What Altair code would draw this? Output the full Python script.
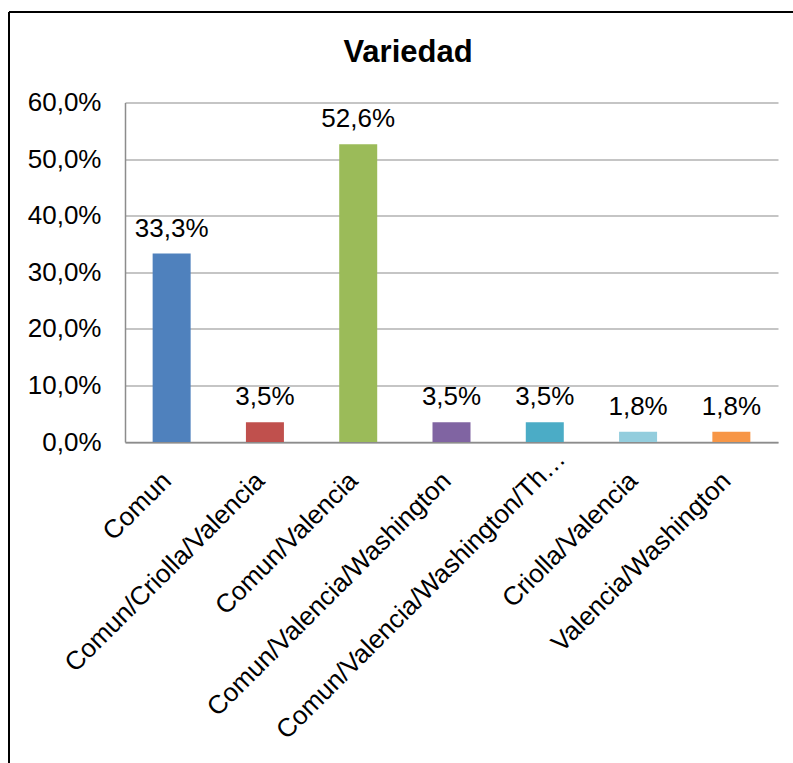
import altair as alt
import pandas as pd

# Share of each variety (percent)
categories = [
    "Comun",
    "Comun/Criolla/Valencia",
    "Comun/Valencia",
    "Comun/Valencia/Washington",
    "Comun/Valencia/Washington/Thompson",
    "Criolla/Valencia",
    "Valencia/Washington",
]
shares = [33.3, 3.5, 52.6, 3.5, 3.5, 1.8, 1.8]
bar_colors = ["#4F81BD", "#C0504D", "#9BBB59", "#8064A2", "#4BACC6", "#93CDDD", "#F79646"]
y_ticks = [0, 10, 20, 30, 40, 50, 60]

FONT = "Liberation Sans"
FS = 26
GRID = "#8c8c8c"

df = pd.DataFrame({"Variedad": categories, "Porcentaje": shares})
pct_label = "replace(format(datum.value, '.1f'), '.', ',') + '%'"

# the truncated long label sits a little up and to the right of its slot
long_label = "datum.value == 'Comun/Valencia/Washington/Thompson'"

base = alt.Chart(df).encode(
    x=alt.X(
        "Variedad:N",
        sort=categories,
        scale=alt.Scale(paddingInner=0, paddingOuter=0),
        axis=alt.Axis(
            title=None,
            labelAngle=-45,
            labelAlign="right",
            labelBaseline="alphabetic",
            labelPadding={"condition": {"test": long_label, "value": 18}, "value": 40},
            labelOffset={"condition": {"test": long_label, "value": 22}, "value": 1},
            labelFont=FONT,
            labelFontSize=FS,
            labelColor="black",
            labelLimit=405,
            ticks=False,
            tickSize=0,
            domainColor=GRID,
            domainWidth=1.5,
        ),
    ),
    y=alt.Y(
        "Porcentaje:Q",
        scale=alt.Scale(domain=[0, 60], nice=False),
        axis=alt.Axis(
            title=None,
            values=y_ticks,
            labelExpr=pct_label,
            labelFont=FONT,
            labelFontSize=FS,
            labelColor="black",
            labelPadding=24,
            labelBaseline="middle",
            ticks=False,
            tickSize=0,
            domainColor=GRID,
            domainWidth=1.5,
            gridColor=GRID,
            gridWidth=1.2,
        ),
    ),
)

bars = base.mark_bar(size=38).encode(
    color=alt.Color(
        "Variedad:N",
        scale=alt.Scale(domain=categories, range=bar_colors),
        legend=None,
    )
)

value_labels = base.transform_calculate(
    etiqueta="replace(format(datum.Porcentaje, '.1f'), '.', ',') + '%'"
).mark_text(
    dy=-17, baseline="alphabetic", font=FONT, fontSize=FS, color="black"
).encode(text="etiqueta:N")

# Outer frame of the chart (top and left edges)
frame_src = alt.Chart(pd.DataFrame({"k": [0]}))
frame_top = frame_src.mark_rule(color="black", strokeWidth=2).encode(
    x=alt.value(-116), x2=alt.value(700), y=alt.value(-90.5)
)
frame_left = frame_src.mark_rule(color="black", strokeWidth=2).encode(
    x=alt.value(-116), y=alt.value(-90.5), y2=alt.value(700)
)

chart = (
    alt.layer(frame_top, frame_left, bars, value_labels)
    .properties(
        width=653,
        height=339.5,
        title=alt.TitleParams(
            text="Variedad",
            font=FONT,
            fontSize=31,
            fontWeight="bold",
            color="black",
            anchor="middle",
            dx=-43.5,
            baseline="alphabetic",
            offset=0,
            dy=82,
        ),
        autosize=alt.AutoSizeParams(type="none"),
        padding={"left": 125, "top": 102.5, "right": 15, "bottom": 321},
        background="white",
    )
    .configure_view(stroke=None)
)

chart.save("out.html", embed_options={"renderer": "svg", "actions": False})
